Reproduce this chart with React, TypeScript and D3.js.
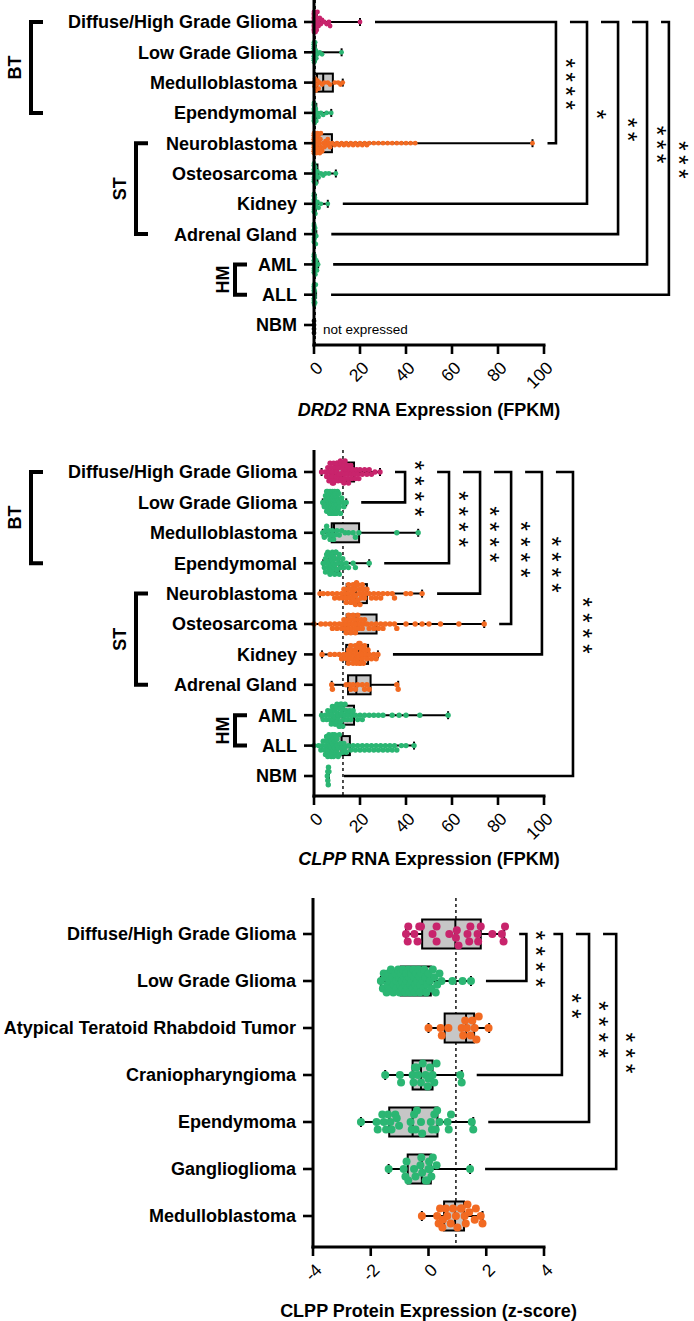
import React from 'react';
import * as d3 from 'd3';

const PINK = '#c8246c';
const GREEN = '#2bb673';
const ORANGE = '#f26a22';
const BLACK = '#111111';
const BOX_FILL = '#c6c6c6';
const FONT = '"Liberation Sans", Arial, Helvetica, sans-serif';

// ---------- Panel A: DRD2 RNA ----------
const rnaCategories = [
  'Diffuse/High Grade Glioma', 'Low Grade Glioma', 'Medulloblastoma', 'Ependymomal',
  'Neuroblastoma', 'Osteosarcoma', 'Kidney', 'Adrenal Gland', 'AML', 'ALL', 'NBM',
];
const rnaTicks = [0, 20, 40, 60, 80, 100];

const drd2Colors = [PINK, GREEN, ORANGE, GREEN, ORANGE, GREEN, GREEN, GREEN, GREEN, GREEN, BLACK];
const drd2Values = [
  [0, 0, 0, 0, 0, 0, 0, 0, 0, 0, 0, 0, 0, 0, 0, 0, 0.1, 0.1, 0.2, 0.2, 0.3, 0.3, 0.4, 0.5, 0.6, 0.7, 0.8, 1, 1.2, 1.5, 1.8,
    2, 2.5, 3, 3.5, 4.5, 5.5, 6.5, 7, 20],
  [0, 0, 0, 0, 0, 0, 0, 0, 0, 0, 0, 0, 0, 0, 0.1, 0.2, 0.2, 0.3, 0.5, 0.8, 1, 1.5, 2.5, 3.5, 12],
  [0, 0.3, 0.5, 0.8, 1.2, 1.5, 2, 2.5, 3.5, 4.5, 6, 7, 9, 10.5, 11.5, 12.5],
  [0, 0, 0, 0, 0, 0, 0, 0, 0, 0, 0, 0, 0.1, 0.2, 0.3, 0.5, 0.8, 1, 1.5, 2, 3, 4, 5.5, 7.5],
  [0, 0, 0, 0, 0, 0, 0, 0, 0, 0, 0, 0, 0, 0, 0, 0, 0, 0, 0.3, 0.3, 0.5, 0.5, 0.8, 0.8, 1, 1, 1.2, 1.2, 1.5, 1.5, 1.8, 2, 2,
    2.3, 2.5, 2.8, 3, 3, 3.5, 3.5, 4, 4.5, 5, 5.5, 6, 6.5, 7,
    8, 9, 10, 11, 12, 13, 14, 15, 16, 17, 18, 19, 20, 21, 22, 23, 24, 26, 28, 30, 32, 34, 36, 38, 40, 42, 44, 95],
  [0, 0, 0, 0, 0, 0, 0, 0, 0, 0, 0, 0, 0.2, 0.5, 0.8, 1, 1.5, 2, 3, 4, 5, 6.5, 9.5],
  [0, 0, 0, 0, 0, 0, 0, 0, 0, 0, 0, 0, 0.2, 0.4, 0.6, 1, 1.5, 2, 3, 6],
  [0, 0, 0, 0, 0, 0, 0, 0, 0, 0, 0.1, 0.2, 0.3, 0.5, 0.8, 1],
  [0, 0, 0, 0, 0, 0, 0, 0, 0, 0, 0, 0, 0.2, 0.4, 0.6, 0.8, 1, 1.3, 1.8],
  [0, 0, 0, 0, 0, 0, 0, 0, 0, 0, 0, 0, 0, 0, 0.1, 0.2, 0.3, 0.5, 0.8],
  [0, 0, 0, 0],
];
// [min, q1, median, q3, max]
const drd2Boxes = [
  [0, 0.1, 0.3, 1.2, 20],
  [0, 0, 0.2, 0.8, 12],
  [0, 1.3, 4, 8.2, 12.5],
  [0, 0, 0.3, 1, 7.5],
  [0, 0.3, 1.5, 7.8, 95],
  [0, 0, 0.3, 1.5, 9.5],
  [0, 0, 0.2, 0.8, 6],
  [0, 0, 0.2, 0.5, 1],
  [0, 0, 0.2, 0.6, 1.8],
  [0, 0, 0.1, 0.4, 0.9],
  null,
];
const drd2Sig = [
  { from: 0, to: 4, stars: 4, pos: 105.2 },
  { from: 0, to: 6, stars: 1, pos: 118.7 },
  { from: 0, to: 7, stars: 2, pos: 132.2 },
  { from: 0, to: 8, stars: 3, pos: 144.8 },
  { from: 0, to: 9, stars: 3, pos: 154.3 },
];

// ---------- Panel B: CLPP RNA ----------
const clppColors = [PINK, GREEN, GREEN, GREEN, ORANGE, ORANGE, ORANGE, ORANGE, GREEN, GREEN, GREEN];
const clppValues = [
  [3.3, 5, 5.5, 6, 6.5, 6.5, 7, 7, 7.5, 7.5, 8, 8, 8, 8.5, 8.5, 9, 9, 9, 9.5, 9.5, 10, 10, 10, 10.5, 10.5, 11, 11, 11, 11.5,
    11.5, 12, 12, 12, 12.5, 12.5, 13, 13, 13, 13.5, 13.5, 14, 14, 14.5, 14.5, 15, 15, 15.5, 16, 16, 16.5, 17, 17.5, 18, 18.5,
    19, 19.5, 20, 21, 22, 23, 24, 25, 26.5, 28.7],
  [3.8, 4.5, 5, 5, 5.5, 5.5, 5.8, 6, 6, 6.2, 6.2, 6.5, 6.5, 6.5, 6.8, 6.8, 7, 7, 7, 7.2, 7.3, 7.5, 7.5, 7.5, 7.7, 7.8, 8, 8,
    8, 8, 8.2, 8.3, 8.5, 8.5, 8.5, 8.5, 8.7, 8.8, 9, 9, 9, 9, 9.2, 9.3, 9.5, 9.5, 9.5, 9.7, 10, 10, 10, 10.2, 10.5, 10.5, 10.8,
    11, 11, 11.5, 12, 12.5, 13, 14],
  [3.8, 4.5, 5, 5.5, 6, 6.5, 7, 7.5, 8, 8.5, 9, 10, 11, 12, 13.5, 15, 17, 18, 19.5, 36, 45.3],
  [4, 4.5, 5, 5, 5.5, 5.5, 6, 6, 6, 6.5, 6.5, 6.5, 7, 7, 7, 7.5, 7.5, 7.5, 8, 8, 8, 8, 8.5, 8.5, 8.5, 9, 9, 9, 9.5, 9.5, 10,
    10, 10.5, 10.5, 11, 11, 11.5, 12, 12.5, 13, 14, 15, 17, 18, 24],
  [2.6, 4, 6, 8, 9, 10, 11, 12, 12.5, 13, 13.5, 14, 14, 14.5, 15, 15, 15.5, 16, 16, 16.5, 17, 17, 17, 17.5, 17.5, 18, 18, 18,
    18.5, 18.5, 19, 19, 19, 19.5, 20, 20, 20.5, 21, 21, 21.5, 22, 22.5, 23, 24, 25, 26, 27, 28, 29, 30, 32, 34, 35, 40, 42, 47],
  [0, 3, 5, 7, 8, 9, 10, 11, 12, 12.5, 13, 13.5, 14, 14, 14.5, 15, 15, 15.5, 16, 16, 16.5, 17, 17, 17.5, 18, 18, 18.5, 19, 19,
    19.5, 20, 20.5, 21, 21.5, 22, 23, 24, 25, 26, 27, 28, 29, 30, 31, 33, 35, 36, 40, 44, 47, 50, 55, 63, 74],
  [3.5, 7, 9, 11, 12, 13, 14, 14.5, 15, 15, 15.5, 16, 16, 16.5, 17, 17, 17.5, 18, 18, 18, 18.5, 18.5, 19, 19, 19, 19.5, 19.5,
    20, 20, 20, 20.5, 20.5, 21, 21, 21, 21.5, 22, 22, 22.5, 23, 23.5, 24, 25, 26, 27, 27.8],
  [7.7, 8, 14, 15.5, 16, 17, 18, 19, 21, 22, 23, 24, 36, 36.6],
  [3.3, 4, 5, 5.5, 6, 6.5, 7, 7.5, 7.5, 8, 8, 8.5, 8.5, 9, 9, 9, 9.5, 9.5, 10, 10, 10, 10.5, 10.5, 11, 11, 11, 11.5, 11.5,
    12, 12, 12, 12.5, 12.5, 13, 13, 13.5, 13.5, 14, 14.5, 15, 15.5, 16, 16.5, 17, 18, 19, 20, 21, 22, 24, 26, 28, 30, 34, 37, 40,
    46, 58.3],
  [0, 2, 3, 3.5, 4, 4.5, 5, 5, 5.5, 5.5, 5.5, 6, 6, 6, 6, 6.5, 6.5, 6.5, 6.5, 7, 7, 7, 7, 7, 7.5, 7.5, 7.5, 7.5, 8, 8, 8, 8,
    8, 8.5, 8.5, 8.5, 8.5, 9, 9, 9, 9, 9.5, 9.5, 9.5, 10, 10, 10, 10.5, 10.5, 11, 11, 11.5, 12, 12.5, 13, 13.5, 14, 15, 16, 17,
    18, 19, 20, 21, 22, 23, 24, 25, 26, 27, 28, 29, 30, 31, 32, 33, 34, 35, 36, 38, 40, 43.5],
  [5.8, 6, 6, 6.2, 6.3, 6.5],
];
const clppBoxes = [
  [3.3, 9, 12.5, 17.4, 28.7],
  [3.8, 7, 8.5, 10.5, 14],
  [3.8, 7.7, 8.7, 19.6, 45.3],
  [4, 6.5, 8.5, 11, 24],
  [2.6, 14.2, 18.3, 23, 47],
  [0, 14.2, 18.5, 27.2, 74],
  [3.5, 14, 19.5, 23.5, 27.8],
  [7.7, 14.8, 18.4, 24.6, 36.6],
  [3.3, 8, 12.5, 17.4, 58.3],
  [0, 9, 12, 15.6, 43.5],
  [5.8, 6, 6.1, 6.3, 6.5],
];
const clppSig = [
  { from: 0, to: 1, stars: 4, pos: 39.6 },
  { from: 0, to: 3, stars: 4, pos: 58.7 },
  { from: 0, to: 4, stars: 4, pos: 72.2 },
  { from: 0, to: 5, stars: 4, pos: 85.7 },
  { from: 0, to: 6, stars: 4, pos: 99.1 },
  { from: 0, to: 10, stars: 4, pos: 112.6 },
];

// ---------- Panel C: CLPP protein ----------
const protCategories = [
  'Diffuse/High Grade Glioma', 'Low Grade Glioma', 'Atypical Teratoid Rhabdoid Tumor', 'Craniopharyngioma',
  'Ependymoma', 'Ganglioglioma', 'Medulloblastoma',
];
const protTicks = [-4, -2, 0, 2, 4];
const protColors = [PINK, GREEN, ORANGE, GREEN, GREEN, GREEN, ORANGE];
const protValues = [
  [-0.78, -0.72, -0.7, -0.49, -0.38, -0.32, -0.26, 0.14, 0.28, 0.28, 0.72, 0.95, 0.98, 1.04, 1.35, 1.41, 1.45, 1.7, 1.72, 1.81,
    2.21, 2.54, 2.6, 2.65],
  [-1.65, -1.58, -1.55, -1.5, -1.45, -1.42, -1.4, -1.35, -1.32, -1.3, -1.25, -1.22, -1.2, -1.15, -1.12, -1.1, -1.05, -1.02,
    -1.0, -0.98, -0.95, -0.92, -0.9, -0.88, -0.85, -0.82, -0.8, -0.78, -0.75, -0.72, -0.7, -0.68, -0.65, -0.62, -0.6, -0.58,
    -0.55, -0.52, -0.5, -0.48, -0.45, -0.42, -0.4, -0.38, -0.35, -0.32, -0.3, -0.28, -0.25, -0.2, -0.18, -0.15, -0.1, -0.08,
    -0.05, 0, 0.05, 0.1, 0.15, 0.2, 0.25, 0.3, 0.38, 0.45, 0.83, 1.18, 1.47],
  [0.0, 0.42, 0.46, 0.69, 1.15, 1.2, 1.27, 1.33, 1.46, 1.52, 1.6, 1.66, 1.74, 2.08],
  [-1.5, -0.99, -0.95, -0.55, -0.52, -0.47, -0.42, -0.36, -0.26, -0.2, -0.1, -0.03, 0.0, 0.05, 0.14, 0.2, 0.28, 1.1, 1.15],
  [-2.34, -1.8, -1.76, -1.6, -1.55, -1.47, -1.4, -1.32, -1.28, -1.15, -1.1, -1.02, -0.62, -0.58, -0.5, -0.45, -0.4, -0.26, -0.22,
    0.08, 0.12, 0.2, 0.25, 0.3, 0.38, 0.66, 0.7, 0.78, 1.5, 1.55],
  [-1.38, -0.86, -0.8, -0.76, -0.7, -0.5, -0.45, -0.28, -0.25, -0.22, -0.1, -0.05, 0.0, 0.02, 0.05, 0.1, 0.15, 0.28, 1.44],
  [-0.23, 0.3, 0.35, 0.4, 0.48, 0.5, 0.6, 0.65, 0.77, 0.85, 0.95, 1.0, 1.12, 1.15, 1.25, 1.29, 1.35, 1.41, 1.6, 1.64, 1.81, 1.87],
];
const protBoxes = [
  [-0.78, -0.22, 0.93, 1.81, 2.62],
  [-1.65, -0.96, -0.44, 0.08, 1.47],
  [0.0, 0.56, 1.3, 1.58, 2.1],
  [-1.5, -0.55, -0.26, 0.14, 1.15],
  [-2.34, -1.36, -0.55, 0.31, 1.55],
  [-1.38, -0.72, -0.23, 0.08, 1.44],
  [-0.23, 0.54, 0.92, 1.23, 1.87],
];
const protSig = [
  { from: 0, to: 1, stars: 4, pos: 3.39 },
  { from: 0, to: 3, stars: 2, pos: 4.62 },
  { from: 0, to: 4, stars: 4, pos: 5.56 },
  { from: 0, to: 5, stars: 3, pos: 6.5 },
];

const rnaGroups = [
  { label: 'BT', from: 0, to: 3, x: 31, tx: 14.5 },
  { label: 'ST', from: 4, to: 7, x: 136, tx: 120 },
  { label: 'HM', from: 8, to: 9, x: 235, tx: 223 },
];

// simple beeswarm: sorted by value, nearest free vertical slot
function swarm(vals, xs, r, maxOff, step, minD) {
  const sorted = vals.slice().sort((a, b) => a - b);
  const cands = [0];
  for (let k = 1; k * step <= maxOff; k++) cands.push(k * step, -k * step);
  const placed = [];
  sorted.forEach((v, idx) => {
    const x = xs(v);
    let best = null;
    for (const c of cands) {
      if (placed.every(q => Math.abs(q.x - x) >= minD || Math.hypot(q.x - x, q.dy - c) >= minD)) {
        best = c;
        break;
      }
    }
    if (best === null) best = cands[(idx * 3) % cands.length];
    placed.push({ x, dy: best });
  });
  return placed;
}

function Panel(props) {
  const {
    cats, colors, values, boxes, sig, groups, domain, xRange, yRange, axisTop, axisBottom,
    ticks, refLine, title, titleY, r, maxOff, step, minD, boxH, capH, notExpressed, starGap, starStep,
  } = props;
  const x = d3.scaleLinear().domain(domain).range(xRange);
  const y = d3.scalePoint().domain(cats).range(yRange);
  const x0 = xRange[0];
  const starFs = 25;
  const starAdv = 0.389 * starFs;

  const hiPx = i => (boxes[i] ? x(boxes[i][4]) : x(d3.max(values[i])));

  // significance brackets
  const sigEls = [];
  sig.forEach((s, k) => {
    const vx = x(s.pos);
    const yTop = y(cats[s.from]);
    const yBot = y(cats[s.to]);
    const mid = (yTop + yBot) / 2;
    let topStart;
    if (k === 0) topStart = hiPx(s.from) + 15;
    else {
      const p = sig[k - 1];
      const pm = (y(cats[p.from]) + y(cats[p.to])) / 2;
      const half = (p.stars * starStep) / 2 + 4;
      topStart = x(p.pos) + (Math.abs(yTop - pm) < half ? starGap : 14);
    }
    const botStart = hiPx(s.to) + 15;
    const ls = starStep - starAdv;
    sigEls.push(
      <path key={'b' + k}
        d={`M${topStart},${yTop}H${vx}V${yBot}H${botStart}`}
        fill="none" stroke="#000" strokeWidth={2.6} />
    );
    sigEls.push(
      <text key={'s' + k}
        transform={`translate(${vx + 15 - 0.575 * starFs},${mid + ls / 2 + 1.5}) rotate(90)`}
        textAnchor="middle" fontSize={starFs} letterSpacing={ls} fontFamily={FONT}>
        {'*'.repeat(s.stars)}
      </text>
    );
  });

  return (
    <g>
      {/* reference line */}
      <line x1={x(refLine)} x2={x(refLine)} y1={axisTop} y2={axisBottom}
        stroke="#000" strokeWidth={1.4} strokeDasharray="3,3" />

      {/* boxes + whiskers */}
      {boxes.map((b, i) => {
        if (!b) return null;
        const cy = y(cats[i]);
        return (
          <g key={'box' + i} stroke="#000" strokeWidth={2}>
            <line x1={x(b[0])} x2={x(b[1])} y1={cy} y2={cy} />
            <line x1={x(b[3])} x2={x(b[4])} y1={cy} y2={cy} />
            <line x1={x(b[0])} x2={x(b[0])} y1={cy - capH} y2={cy + capH} />
            <line x1={x(b[4])} x2={x(b[4])} y1={cy - capH} y2={cy + capH} />
            <rect x={x(b[1])} y={cy - boxH} width={Math.max(0, x(b[3]) - x(b[1]))} height={boxH * 2}
              fill={BOX_FILL} />
            <line x1={x(b[2])} x2={x(b[2])} y1={cy - boxH} y2={cy + boxH} />
          </g>
        );
      })}

      {/* dots */}
      {values.map((vals, i) => {
        const cy = y(cats[i]);
        return swarm(vals, x, r, maxOff, step, minD).map((p, j) => (
          <circle key={`d${i}-${j}`} cx={p.x} cy={cy + p.dy} r={r} fill={colors[i]} />
        ));
      })}

      {/* axes */}
      <line x1={x0} x2={x0} y1={axisTop} y2={axisBottom + 1.5} stroke="#000" strokeWidth={3} />
      <line x1={x0 - 1.5} x2={xRange[1] + 1.5} y1={axisBottom} y2={axisBottom} stroke="#000" strokeWidth={3} />
      {cats.map(c => (
        <g key={'yt' + c}>
          <line x1={x0 - 10} x2={x0} y1={y(c)} y2={y(c)} stroke="#000" strokeWidth={2.6} />
          <text x={x0 - 17} y={y(c)} dy="0.36em" textAnchor="end" fontSize={18} fontWeight="bold"
            fontFamily={FONT}>{c}</text>
        </g>
      ))}
      {ticks.map(t => (
        <g key={'xt' + t}>
          <line x1={x(t)} x2={x(t)} y1={axisBottom} y2={axisBottom + 9} stroke="#000" strokeWidth={2.6} />
          <text transform={`translate(${x(t) + 10},${axisBottom + 24}) rotate(-45)`} textAnchor="end"
            fontSize={17.5} fontFamily={FONT}>{t}</text>
        </g>
      ))}
      {notExpressed && (
        <text x={x0 + 9} y={y(cats[cats.length - 1]) + 9} fontSize={13.5} fontFamily={FONT}>not expressed</text>
      )}

      {/* group brackets */}
      {groups.map(g => {
        const a = y(cats[g.from]);
        const b = y(cats[g.to]);
        return (
          <g key={'g' + g.label}>
            <path d={`M${g.x + 12},${a}H${g.x}V${b}H${g.x + 12}`} fill="none" stroke="#000" strokeWidth={4} />
            <text transform={`translate(${g.tx},${(a + b) / 2}) rotate(-90)`} textAnchor="middle"
              dy="0.36em" fontSize={18} fontWeight="bold" fontFamily={FONT}>{g.label}</text>
          </g>
        );
      })}

      {sigEls}

      <text x={(xRange[0] + xRange[1]) / 2} y={titleY} textAnchor="middle" fontSize={18} fontWeight="bold"
        fontFamily={FONT}>{title}</text>
    </g>
  );
}

export default function App() {
  return (
    <svg width={694} height={1321} style={{ position: 'absolute', left: 0, top: 0, background: '#fff' }}>
      <rect width={694} height={1321} fill="#fff" />
      <Panel
        cats={rnaCategories} colors={drd2Colors} values={drd2Values} boxes={drd2Boxes} sig={drd2Sig}
        groups={rnaGroups} domain={[0, 100]} xRange={[314, 544]} yRange={[22, 325]}
        axisTop={0} axisBottom={345} ticks={rnaTicks} refLine={0.5}
        title={<><tspan fontStyle="italic">DRD2</tspan> RNA Expression (FPKM)</>} titleY={416}
        r={2.4} maxOff={11} step={2} minD={2.8} boxH={9} capH={4} notExpressed starGap={30} starStep={14}
      />
      <Panel
        cats={rnaCategories} colors={clppColors} values={clppValues} boxes={clppBoxes} sig={clppSig}
        groups={rnaGroups} domain={[0, 100]} xRange={[314, 544]} yRange={[472, 776]}
        axisTop={450} axisBottom={796} ticks={rnaTicks} refLine={12.6}
        title={<><tspan fontStyle="italic">CLPP</tspan> RNA Expression (FPKM)</>} titleY={865}
        r={2.7} maxOff={11} step={2.2} minD={3.2} boxH={9.5} capH={4} starGap={32} starStep={15.5}
      />
      <Panel
        cats={protCategories} colors={protColors} values={protValues} boxes={protBoxes} sig={protSig}
        groups={[]} domain={[-4, 4]} xRange={[313, 544]} yRange={[934, 1216]}
        axisTop={898} axisBottom={1247} ticks={protTicks} refLine={0.95}
        title="CLPP Protein Expression (z-score)" titleY={1317}
        r={4} maxOff={15} step={3.8} minD={7} boxH={14.5} capH={5} starGap={27} starStep={15.7}
      />
    </svg>
  );
}
